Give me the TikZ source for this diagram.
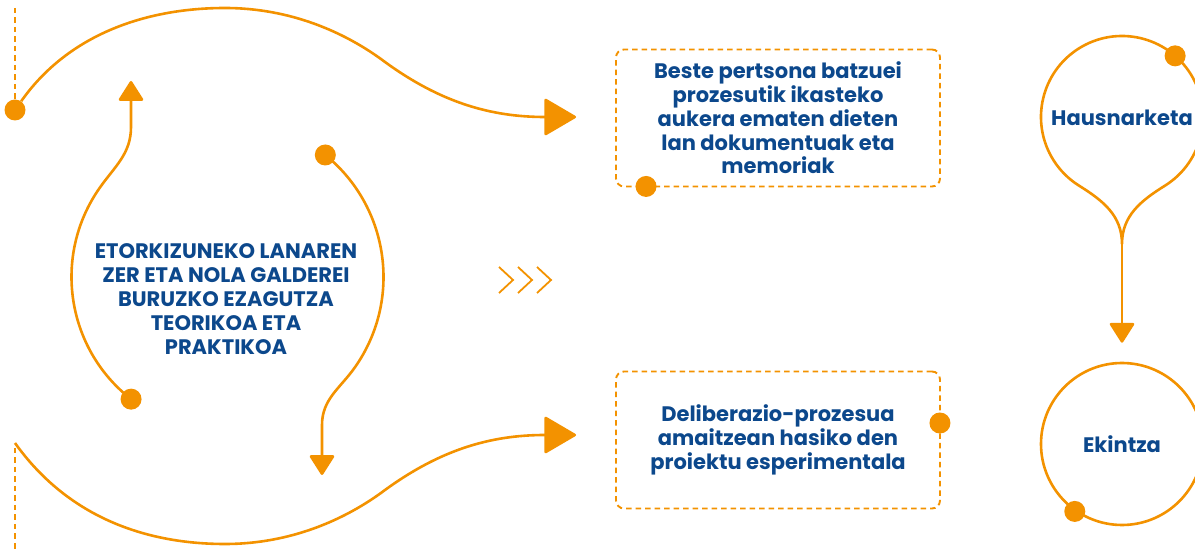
\documentclass[tikz,border=0pt]{standalone}
\usepackage{fontspec}
\setmainfont{Poppins}
\usepackage{xcolor}
\usetikzlibrary{arrows.meta,positioning,calc}
\definecolor{orng}{RGB}{243,146,0}
\definecolor{navy}{RGB}{12,72,140}

\begin{document}
\begin{tikzpicture}[x=1pt,y=1pt,
  ln/.style={draw=orng,line width=2.6pt},
  dsh/.style={draw=orng,line width=1.9pt,dash pattern=on 5.5pt off 4pt},
  dot/.style={circle,fill=orng,inner sep=0pt,minimum size=21pt},
  bigtip/.style={-{Triangle[length=33pt,width=38pt,round]}},
  smtip/.style={-{Triangle[length=21pt,width=26pt,round]}},
  txt/.style={align=center,text=navy,font=\fontsize{21}{23.8}\selectfont\bfseries},
  box/.style={txt,dsh,rounded corners=8pt,minimum width=324pt,minimum height=137pt}]
 \useasboundingbox (0,0) rectangle (1195,552);
 % knowledge balloon
 \coordinate (ctr) at (226.5,275);
 \node[txt,font=\fontsize{21}{24}\selectfont\bfseries] (know) at (226,253)
   {ETORKIZUNEKO LANAREN\\ZER ETA NOLA GALDEREI\\BURUZKO EZAGUTZA\\TEORIKOA ETA\\PRAKTIKOA};
 \node[dot] (ldot) at ($(ctr)+(232:155)$) {};
 \node[dot] (rdot) at ($(ctr)+(51:157)$) {};
 \coordinate (uptip) at (131,471);
 \coordinate (dntip) at (322,77);
 \draw[ln,smtip] (ldot.center) arc[start angle=232,end angle=145,radius=155]
   to[out=55,in=-90] (131,425) -- (uptip);
 \draw[ln,smtip] (rdot.center) arc[start angle=51,end angle=-35,radius=157]
   to[out=-125,in=90] (322,127) -- (dntip);
 % outputs
 \node[box] (docs) at (778,434) {Beste pertsona batzuei\\prozesutik ikasteko\\aukera ematen dieten\\lan dokumentuak eta\\memoriak};
 \node[box] (proj) at (778,112) {Deliberazio-prozesua\\amaitzean hasiko den\\proiektu esperimentala};
 \node[dot] (docsdot) at ($(docs.south west)+(31,1)$) {};
 \node[dot] (projdot) at ($(proj.east)+(-1,17)$) {};
 % sweeps to the outputs
 \node[dot] (tdot) at (15,442) {};
 \coordinate (ttop) at (15,544);
 \coordinate (bstart) at (15,109);
 \coordinate (bend) at (15,0);
 \draw[dsh] (ttop) -- (tdot);
 \draw[dsh] ($(bstart)+(0,-5)$) -- (bend);
 \draw[ln,bigtip] (tdot) .. controls (70,520) and (150,544) .. (225,544)
   .. controls (290,544) and (345,520) .. (385,490)
   .. controls (440,450) and (490,435) .. ($(docs.west)+(-39,1)$);
 \draw[ln,bigtip] (bstart) .. controls (70,32) and (150,8) .. (225,8)
   .. controls (290,8) and (345,32) .. (385,62)
   .. controls (440,102) and (490,117) .. ($(proj.west)+(-39,5)$);
 % chevrons
 \foreach \cx in {499,518,537}
   \draw[orng,line width=1.8pt] (\cx,285) -- (\cx+14,272) -- (\cx,259);
 % reflection / action
 \node[txt] (refl) at (1122,434) {Hausnarketa};
 \coordinate (joint) at (1122,308);
 \draw[ln] (joint) to[out=90,in=212] ($(refl)+(0,1)+(-58:81)$)
   arc[start angle=-58,end angle=238,radius=81] to[out=-32,in=90] (joint);
 \node[dot] (refldot) at ($(refl)+(0,1)+(49:81)$) {};
 \node[txt,circle,draw=orng,line width=2.6pt,minimum size=162pt] (act) at (1122,108) {Ekintza};
 \draw[ln,smtip] (joint) -- ($(act.north)+(0,19)$);
 \node[dot] (actdot) at (act.235) {};
\end{tikzpicture}
\end{document}
